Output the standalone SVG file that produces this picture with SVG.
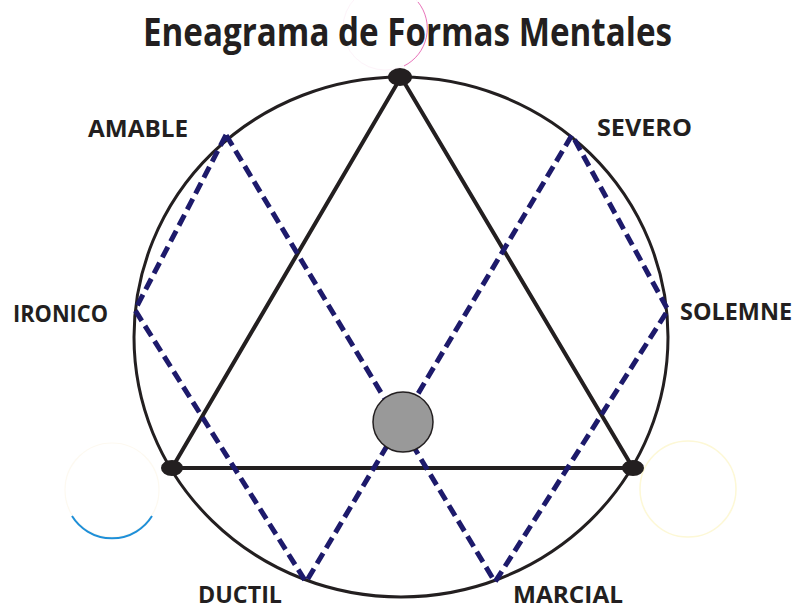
<svg xmlns="http://www.w3.org/2000/svg" width="795" height="610" viewBox="0 0 795 610">
<style>
.lbl{font-family:"Open Sans","Liberation Sans",sans-serif;font-weight:bold;font-size:24px;fill:#231f20}
.bot{font-size:23px}
.title{font-family:"Open Sans","Liberation Sans",sans-serif;font-weight:bold;font-size:39px;fill:#231f20}
.dash{stroke:#1d1a6b;stroke-width:5;stroke-dasharray:12 6;fill:none}
.tri{stroke:#231f20;stroke-width:4;fill:none;stroke-linejoin:round}
.dot{fill:#231f20}
</style>
<rect width="795" height="610" fill="#fff"/>
<g id="decor">
<circle cx="385" cy="28" r="42" fill="none" stroke="#fdf3f9" stroke-width="1"/>
<path d="M418 2 A42 42 0 0 1 404 66" fill="none" stroke="#e040a0" stroke-width="1" opacity="0.7"/>
<circle cx="112" cy="490" r="47" fill="none" stroke="#fdf9f0" stroke-width="1.2"/>
<path d="M72 516 A47 47 0 0 0 152 516" fill="none" stroke="#1e8fd8" stroke-width="2"/>
<circle cx="688" cy="489" r="48" fill="none" stroke="#fdf8d6" stroke-width="1.5"/>
</g>
<text class="title" x="143" y="46" textLength="529" lengthAdjust="spacingAndGlyphs">Eneagrama de Formas Mentales</text>
<g id="circle">
<ellipse cx="401" cy="337" rx="267" ry="260" fill="none" stroke="#231f20" stroke-width="3"/>
</g>
<g id="connectors">
<polygon class="tri" points="401,77 172,468 633,468"/>
<path class="dash" d="M226 135 L135 310 L306 582 L572 135 L668 310 L495 582 Z"/>
</g>
<g id="center"><circle cx="403" cy="422" r="30" fill="#999" stroke="#231f20" stroke-width="1.5"/></g>
<g id="dot-top"><ellipse class="dot" cx="400" cy="77" rx="12" ry="9"/></g>
<g id="dot-left"><ellipse class="dot" cx="172" cy="468" rx="11" ry="8"/></g>
<g id="dot-right"><ellipse class="dot" cx="633" cy="468" rx="11" ry="8"/></g>
<g id="amable"><text class="lbl" x="88" y="137" textLength="100" lengthAdjust="spacingAndGlyphs">AMABLE</text></g>
<g id="severo"><text class="lbl" x="597" y="136" textLength="95" lengthAdjust="spacingAndGlyphs">SEVERO</text></g>
<g id="ironico"><text class="lbl" x="13" y="322" textLength="95" lengthAdjust="spacingAndGlyphs">IRONICO</text></g>
<g id="solemne"><text class="lbl" x="680" y="320" textLength="112" lengthAdjust="spacingAndGlyphs">SOLEMNE</text></g>
<g id="ductil"><text class="lbl bot" x="198" y="603" textLength="84" lengthAdjust="spacingAndGlyphs">DUCTIL</text></g>
<g id="marcial"><text class="lbl bot" x="513" y="603" textLength="110" lengthAdjust="spacingAndGlyphs">MARCIAL</text></g>
</svg>
